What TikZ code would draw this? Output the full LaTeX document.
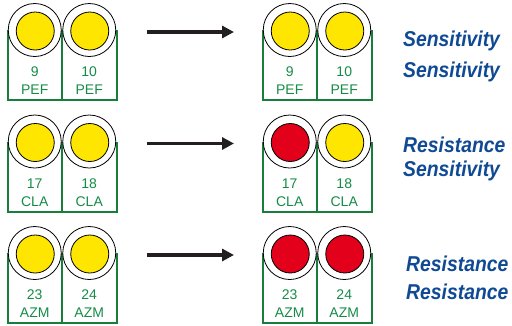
\documentclass[tikz,border=0pt]{standalone}
\usepackage{fontspec}
\usepackage{graphicx}
\setmainfont{Liberation Sans}
\usetikzlibrary{arrows.meta}
\definecolor{boxgreen}{RGB}{25,125,60}
\definecolor{txtgreen}{RGB}{20,140,70}
\definecolor{wellyellow}{RGB}{255,230,0}
\definecolor{wellred}{RGB}{226,0,26}
\definecolor{resblue}{RGB}{16,74,148}
\definecolor{arrowblack}{RGB}{35,31,32}
\newcommand{\cond}[1]{\scalebox{0.9}[1]{#1}}
\tikzset{
  boxline/.style={draw=boxgreen, line width=2pt},
  outerwell/.style={circle, draw=black, line width=0.8pt, fill=white, minimum size=53pt, inner sep=0pt},
  innerwell/.style={circle, draw=black, line width=0.8pt, minimum size=38pt, inner sep=0pt},
  welllabel/.style={text=txtgreen, font=\fontsize{14pt}{14pt}\selectfont, anchor=base, inner sep=0pt},
  result/.style={text=resblue, font=\fontsize{21.5pt}{21.5pt}\selectfont\bfseries\itshape, anchor=base west, inner sep=0pt},
  trans/.style={draw=arrowblack, line width=3.2pt, -{Triangle[length=12pt,width=12pt]}}
}
% #1 prefix, #2 left x, #3 circle centre y, #4 num1, #5 num2, #6 drug, #7 colour1, #8 colour2
\newcommand{\wellpair}[8]{%
  \draw[boxline] (#2,#3) -- (#2,#3+70) -- (#2+109,#3+70) -- (#2+109,#3);
  \draw[boxline] (#2+54.5,#3) -- (#2+54.5,#3+70);
  \node[outerwell] (#1o1) at (#2+27.25,#3) {};
  \node[outerwell] (#1o2) at (#2+81.75,#3) {};
  \node[innerwell, fill=#7] (#1i1) at (#2+27.75,#3+1) {};
  \node[innerwell, fill=#8] (#1i2) at (#2+82.25,#3+1) {};
  \node[welllabel] (#1n1) at (#2+27.25,#3+46.5) {#4};
  \node[welllabel] (#1n2) at (#2+81.75,#3+46.5) {#5};
  \node[welllabel] (#1d1) at (#2+27.25,#3+64.5) {#6};
  \node[welllabel] (#1d2) at (#2+81.75,#3+64.5) {#6};
}
\begin{document}
\begin{tikzpicture}[x=1pt,y=-1pt]
\useasboundingbox (0,0) rectangle (512,325);
% row 1
\wellpair{la}{7.5}{30}{9}{10}{PEF}{wellyellow}{wellyellow}
\wellpair{ra}{262.5}{30}{9}{10}{PEF}{wellyellow}{wellyellow}
% row 2
\wellpair{lb}{7.5}{141.5}{17}{18}{CLA}{wellyellow}{wellyellow}
\wellpair{rb}{262.5}{141.5}{17}{18}{CLA}{wellred}{wellyellow}
% row 3
\wellpair{lc}{7.5}{253}{23}{24}{AZM}{wellyellow}{wellyellow}
\wellpair{rc}{262.5}{253}{23}{24}{AZM}{wellred}{wellred}
% arrows
\coordinate (a1s) at (147,32);   \coordinate (a1e) at (234,32);
\coordinate (a2s) at (147,143.5);\coordinate (a2e) at (234,143.5);
\coordinate (a3s) at (147,255);  \coordinate (a3e) at (234,255);
\draw[trans] (a1s) -- (a1e);
\draw[trans] (a2s) -- (a2e);
\draw[trans] (a3s) -- (a3e);
% results
\node[result] (t1a) at (403,46) {\cond{Sensitivity}};
\node[result] (t1b) at (403,77) {\cond{Sensitivity}};
\node[result] (t2a) at (403,152) {\cond{Resistance}};
\node[result] (t2b) at (403,176) {\cond{Sensitivity}};
\node[result] (t3a) at (406,271) {\cond{Resistance}};
\node[result] (t3b) at (406,299) {\cond{Resistance}};
\end{tikzpicture}
\end{document}
